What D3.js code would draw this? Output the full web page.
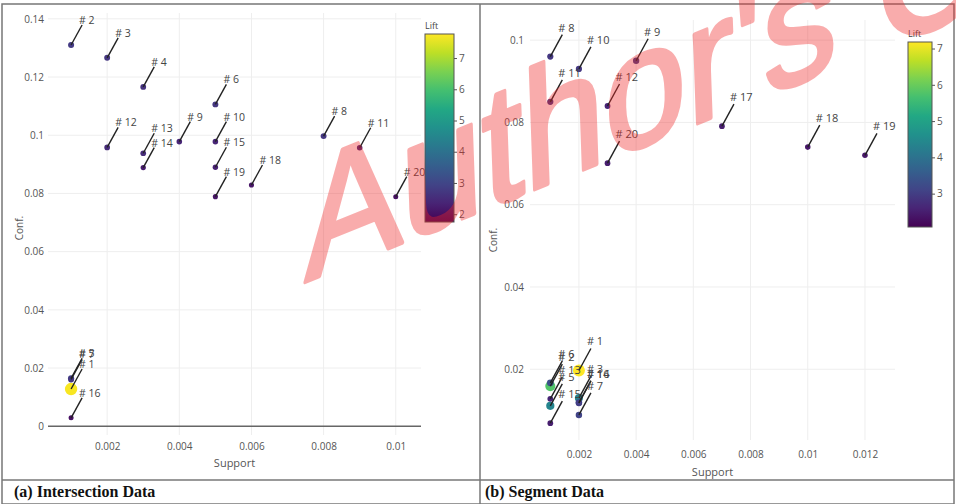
<!DOCTYPE html>
<html>
<head>
<meta charset="utf-8">
<script src="https://cdn.jsdelivr.net/npm/d3@7"></script>
<style>
  body { margin: 0; background: #fff; }
  svg { display: block; }
</style>
</head>
<body>
<div id="chart"></div>
<script>
// (a) Intersection Data
var leftRule    = [2, 3, 4, 6, 12, 13, 14, 9, 10, 15, 19, 18, 8, 11, 20, 5, 7, 1, 16];
var leftSupport = [0.001, 0.002, 0.003, 0.005, 0.002, 0.003, 0.003, 0.004, 0.005, 0.005, 0.005, 0.006, 0.008, 0.009, 0.01, 0.001, 0.001, 0.001, 0.001];
var leftConf    = [0.131, 0.1266, 0.1166, 0.1106, 0.0958, 0.0938, 0.0889, 0.0978, 0.0978, 0.089, 0.0789, 0.0829, 0.0997, 0.0957, 0.0789, 0.0165, 0.0161, 0.0128, 0.0029];
var leftLift    = [2.8, 2.7, 2.6, 2.7, 2.5, 2.5, 2.2, 2.4, 2.4, 2.3, 2.1, 2.1, 2.7, 2.4, 2.0, 2.9, 2.7, 7.7, 2.0];
var leftXTicks  = [0.002, 0.004, 0.006, 0.008, 0.01];
var leftYTicks  = [0, 0.02, 0.04, 0.06, 0.08, 0.1, 0.12, 0.14];
var leftLiftTicks = [2, 3, 4, 5, 6, 7];

// (b) Segment Data
var rightRule    = [8, 10, 9, 11, 12, 17, 20, 18, 19, 6, 2, 13, 5, 15, 1, 3, 14, 16, 7];
var rightSupport = [0.001, 0.002, 0.004, 0.001, 0.003, 0.007, 0.003, 0.01, 0.012, 0.001, 0.001, 0.001, 0.001, 0.001, 0.002, 0.002, 0.002, 0.002, 0.002];
var rightConf    = [0.096, 0.093, 0.095, 0.085, 0.084, 0.0791, 0.0701, 0.074, 0.072, 0.0167, 0.0159, 0.0128, 0.0111, 0.0069, 0.0197, 0.013, 0.0119, 0.0118, 0.0089];
var rightLift    = [2.9, 2.9, 3.0, 2.9, 2.6, 2.5, 2.5, 2.4, 2.4, 3.3, 5.8, 2.6, 4.4, 2.5, 7.18, 4.3, 3.2, 3.0, 3.1];
var rightXTicks  = [0.002, 0.004, 0.006, 0.008, 0.01, 0.012];
var rightYTicks  = [0.02, 0.04, 0.06, 0.08, 0.1];
var rightLiftTicks = [3, 4, 5, 6, 7];

var captions = ["(a) Intersection Data", "(b) Segment Data"];

var W = 956, H = 504;
var svg = d3.select("#chart").append("svg")
    .attr("width", W)
    .attr("height", H);

var font = "'Open Sans', 'DejaVu Sans', sans-serif";

function drawPanel(p) {
    var g = svg.append("g");
    var x = d3.scaleLinear().domain(p.xDomain).range(p.xRange);
    var y = d3.scaleLinear().domain(p.yDomain).range(p.yRange);
    var lift = d3.scaleSequential(d3.interpolateViridis).domain(p.liftDomain);
    var size = d3.scaleLinear().domain([2, 7.5]).range([2.5, 6.2]).clamp(true);

    // grid
    g.append("g").selectAll("line.vg")
        .data(p.xTicks).enter().append("line")
        .attr("x1", function (d) { return x(d); })
        .attr("x2", function (d) { return x(d); })
        .attr("y1", p.yRange[1]).attr("y2", p.yRange[0])
        .style("stroke", "#eeeeee").style("stroke-width", 1);
    g.append("g").selectAll("line.hg")
        .data(p.yTicks.filter(function (d) { return d !== 0; })).enter().append("line")
        .attr("x1", p.xRange[0]).attr("x2", p.xRange[1])
        .attr("y1", function (d) { return y(d); })
        .attr("y2", function (d) { return y(d); })
        .style("stroke", "#eeeeee").style("stroke-width", 1);
    if (p.zeroLine) {
        g.append("line")
            .attr("x1", p.xRange[0]).attr("x2", p.xRange[1])
            .attr("y1", y(0)).attr("y2", y(0))
            .style("stroke", "#666").style("stroke-width", 1.5);
    }

    // axes (text only, plotly style)
    var xAxis = g.append("g")
        .attr("transform", "translate(0," + p.xTickY + ")")
        .call(d3.axisBottom(x).tickValues(p.xTicks).tickSize(0).tickFormat(d3.format("~g")));
    var yAxis = g.append("g")
        .attr("transform", "translate(" + p.yTickX + ",0)")
        .call(d3.axisLeft(y).tickValues(p.yTicks).tickSize(0).tickFormat(d3.format("~g")));
    [xAxis, yAxis].forEach(function (a) {
        a.select(".domain").remove();
        a.selectAll("text")
            .style("font-family", font).style("font-size", "10px").style("fill", "#555");
    });

    g.append("text")
        .attr("x", (p.xRange[0] + p.xRange[1]) / 2)
        .attr("y", p.xTitleY)
        .attr("text-anchor", "middle")
        .style("font-family", font).style("font-size", "11px").style("fill", "#555")
        .text("Support");
    g.append("text")
        .attr("transform", "translate(" + p.yTitleX + "," + p.yTitleY + ") rotate(-90)")
        .attr("text-anchor", "middle")
        .style("font-family", font).style("font-size", "10px").style("fill", "#555")
        .text("Conf.");

    var data = p.rule.map(function (r, i) {
        return { rule: r, support: p.support[i], conf: p.conf[i], lift: p.lift[i] };
    });
    // big (high lift) markers first so the small ones stay visible
    var pts = data.slice().sort(function (a, b) { return b.lift - a.lift; });

    g.append("g").selectAll("circle")
        .data(pts).enter().append("circle")
        .attr("cx", function (d) { return x(d.support); })
        .attr("cy", function (d) { return y(d.conf); })
        .attr("r", function (d) { return size(d.lift); })
        .style("fill", function (d) { return lift(d.lift); });

    // annotations: arrow line + label
    g.append("g").selectAll("line")
        .data(data).enter().append("line")
        .attr("x1", function (d) { return x(d.support); })
        .attr("y1", function (d) { return y(d.conf); })
        .attr("x2", function (d) { return x(d.support) + p.ann[0]; })
        .attr("y2", function (d) { return y(d.conf) + p.ann[1]; })
        .style("stroke", "#222").style("stroke-width", 1.4);
    g.append("g").selectAll("text")
        .data(data).enter().append("text")
        .attr("x", function (d) { return x(d.support) + p.ann[2]; })
        .attr("y", function (d) { return y(d.conf) + p.ann[3]; })
        .style("font-family", font).style("font-size", p.annFont).style("fill", "#444")
        .text(function (d) { return "# " + d.rule; });

    // colorbar
    var cb = g.append("g");
    var cy = d3.scaleLinear().domain(p.liftDomain).range(p.cbY);
    var gid = "grad" + p.id;
    var grad = svg.append("defs").append("linearGradient")
        .attr("id", gid).attr("x1", 0).attr("x2", 0).attr("y1", 1).attr("y2", 0);
    d3.range(0, 1.0001, 0.1).forEach(function (t) {
        grad.append("stop").attr("offset", t).attr("stop-color", d3.interpolateViridis(t));
    });
    cb.append("rect")
        .attr("x", p.cbX[0]).attr("width", p.cbX[1] - p.cbX[0])
        .attr("y", p.cbY[1]).attr("height", p.cbY[0] - p.cbY[1])
        .style("fill", "url(#" + gid + ")")
        .style("stroke", "#555").style("stroke-width", 1);
    var cbAxis = cb.append("g")
        .attr("transform", "translate(" + p.cbX[1] + ",0)")
        .call(d3.axisRight(cy).tickValues(p.liftTicks).tickSize(3).tickPadding(2).tickFormat(d3.format("d")));
    cbAxis.select(".domain").remove();
    cbAxis.selectAll("line").style("stroke", "#555");
    cbAxis.selectAll("text")
        .style("font-family", font).style("font-size", "10px").style("fill", "#555");
    cb.append("text")
        .attr("x", p.cbX[0])
        .attr("y", p.cbY[1] - 5)
        .style("font-family", font).style("font-size", "9px").style("fill", "#444")
        .text("Lift");
}

drawPanel({
    id: "a",
    rule: leftRule, support: leftSupport, conf: leftConf, lift: leftLift,
    xTicks: leftXTicks, yTicks: leftYTicks, liftTicks: leftLiftTicks,
    xDomain: [0.00036, 0.0107], xRange: [48, 421],
    yDomain: [-0.003, 0.142], yRange: [435, 13],
    zeroLine: true,
    xTickY: 440, yTickX: 47,
    xTitleY: 467, yTitleX: 23, yTitleY: 228,
    liftDomain: [1.75, 7.77], cbX: [425, 454], cbY: [222, 34],
    ann: [11, -20, 8, -21], annFont: "10.5px"
});

drawPanel({
    id: "b",
    rule: rightRule, support: rightSupport, conf: rightConf, lift: rightLift,
    xTicks: rightXTicks, yTicks: rightYTicks, liftTicks: rightLiftTicks,
    xDomain: [0.00029, 0.01305], xRange: [530, 895],
    yDomain: [0.0028, 0.1049], yRange: [440, 20],
    zeroLine: false,
    xTickY: 448, yTickX: 527,
    xTitleY: 476, yTitleX: 497, yTitleY: 240,
    liftDomain: [2.08, 7.18], cbX: [908, 932], cbY: [227, 42],
    ann: [12, -22, 8, -25], annFont: "11px"
});

// frame and captions
var frame = svg.append("g").style("stroke", "#777").style("stroke-width", 1.5).style("fill", "none");
frame.append("rect").attr("x", 2).attr("y", 4).attr("width", W - 4).attr("height", H - 4);
frame.append("line").attr("x1", 480).attr("x2", 480).attr("y1", 4).attr("y2", H);
frame.append("line").attr("x1", 2).attr("x2", W - 2).attr("y1", 480).attr("y2", 480);

svg.selectAll("text.caption")
    .data(captions).enter().append("text")
    .attr("class", "caption")
    .attr("x", function (d, i) { return i === 0 ? 14 : 485; })
    .attr("y", 497)
    .style("font-family", "'Liberation Serif', 'Times New Roman', serif")
    .style("font-weight", "bold")
    .style("font-size", "16px")
    .style("fill", "#111")
    .text(function (d) { return d; });

// watermark
svg.append("text")
    .attr("transform", "translate(305,282) rotate(-22) skewX(-20)")
    .style("font-family", "'Liberation Sans', Arial, sans-serif")
    .style("font-size", "158px")
    .style("fill", "rgb(240,40,40)")
    .style("stroke", "rgb(240,40,40)")
    .style("stroke-width", 4)
    .style("stroke-linejoin", "round")
    .style("opacity", 0.38)
    .text("Author's Copy");
</script>
</body>
</html>
